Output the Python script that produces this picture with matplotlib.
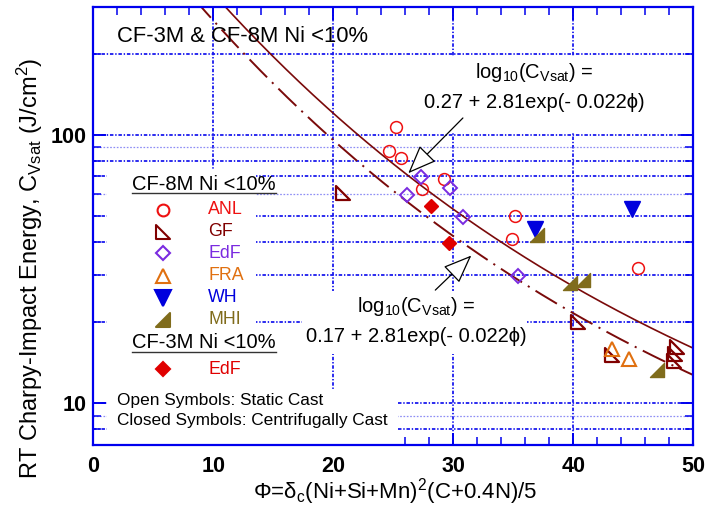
import numpy as np
import matplotlib
matplotlib.use("Agg")
import matplotlib.pyplot as plt
from matplotlib.path import Path
from matplotlib.patches import Rectangle
from matplotlib.lines import Line2D

plt.rcParams['font.family'] = ['Liberation Sans', 'DejaVu Sans']
plt.rcParams['mathtext.default'] = 'regular'
plt.rcParams['lines.scale_dashes'] = False

# ---- data: phi (ferrite/composition parameter) vs. saturation Charpy energy (J/cm2)
anl_phi = [25.2, 24.6, 25.6, 29.2, 27.4, 35.1, 34.9, 45.4]
anl_cv = [107.0, 87.0, 82.0, 68.5, 63.0, 50.0, 41.0, 32.0]
gf_phi = [20.8, 40.4, 43.2, 48.6, 48.5, 48.4]
gf_cv = [60.5, 20.1, 15.1, 16.2, 15.3, 14.4]
edf_phi = [27.3, 26.1, 29.7, 30.8, 35.4]
edf_cv = [69.3, 59.4, 63.2, 49.6, 29.8]
fra_phi = [43.2, 44.6]
fra_cv = [16.0, 14.6]
wh_phi = [44.9, 36.8]
wh_cv = [52.8, 44.5]
mhi_phi = [37.0, 39.7, 40.8, 47.0]
mhi_cv = [42.4, 28.0, 28.9, 13.3]
edf3m_phi = [28.1, 29.6]
edf3m_cv = [54.3, 39.6]

# correlation constants: log10(Cvsat) = a + b*exp(c*phi)
fit_upper = (0.27, 2.81, -0.022)
fit_lower = (0.17, 2.81, -0.022)

x_ticks = [0, 10, 20, 30, 40, 50]
y_ticks = [10, 100]
y_minor = [7, 8, 9, 20, 30, 40, 50, 60, 70, 80, 90, 200, 300]
grid_x = [10, 20, 30, 40]
grid_y_dark = [8, 10, 20, 30, 40, 50, 70, 80, 100, 200]
grid_y_light = [9, 60, 90]

# ---- colours
C_ANL = '#ee1111'
C_GF = '#800000'
C_EDF = '#7a2be0'
C_FRA = '#e07010'
C_WH = '#0000dd'
C_MHI = '#806c1c'
C_EDF3 = '#e00000'
C_FIT = '#7a0a0a'
C_AX = '#0000ee'

# right-triangle markers
tri_gf = Path([(-1, 1), (-1, -1), (1, -1), (-1, 1)],
              [Path.MOVETO, Path.LINETO, Path.LINETO, Path.CLOSEPOLY])
tri_mhi = Path([(1, 1), (1, -1), (-1, -1), (1, 1)],
               [Path.MOVETO, Path.LINETO, Path.LINETO, Path.CLOSEPOLY])

W, H = 708, 514
fig = plt.figure(figsize=(W / 100, H / 100), dpi=100)
ax = fig.add_axes([93.3 / W, 1 - 445 / H, 600 / W, 438.5 / H])
ax.set_yscale('log')
ax.set_xlim(0, 50)
ax.set_ylim(7, 300)


def P(px, py):
    """pixel position -> figure fraction"""
    return px / W, 1 - py / H


# ---- grid
dark_grid = dict(color='#1a1aee', lw=1.3, ls=(0, (2.5, 1.3, 1, 1.3)), zorder=1)
light_grid = dict(color='#8c8cf5', lw=0.9, ls=(0, (1.2, 1.2)), zorder=1)
for gx in grid_x:
    ax.axvline(gx, **dark_grid)
for gy in grid_y_dark:
    ax.axhline(gy, **dark_grid)
for gy in grid_y_light:
    ax.axhline(gy, **light_grid)

# white panels behind the text blocks
for (x0, y0, x1, y1) in [(107, 170, 256, 444), (115, 390, 398, 444),
                         (302, 291, 527, 354), (420, 57, 648, 133)]:
    fx0, fy1 = P(x0, y0)
    fx1, fy0 = P(x1, y1)
    ax.add_patch(Rectangle((fx0, fy0), fx1 - fx0, fy1 - fy0, transform=fig.transFigure,
                           facecolor='white', edgecolor='none', zorder=2, clip_on=False))

# ---- fitted curves
phi = np.linspace(0, 50, 400)
a, b, c = fit_upper
ax.plot(phi, 10 ** (a + b * np.exp(c * phi)), color=C_FIT, lw=1.2, zorder=3)
a, b, c = fit_lower
ax.plot(phi, 10 ** (a + b * np.exp(c * phi)), color=C_FIT, lw=1.4,
        ls=(0, (18, 5, 1.5, 5)), zorder=3)

# ---- data markers
mk = dict(ls='none', zorder=4, clip_on=False)
ax.plot(anl_phi, anl_cv, marker='o', ms=8.5, mfc='none', mec=C_ANL, mew=1.1, **mk)
ax.plot(gf_phi, gf_cv, marker=tri_gf, ms=9.5, mfc='none', mec=C_GF, mew=1.6, **mk)
ax.plot(edf_phi, edf_cv, marker='D', ms=7, mfc='none', mec=C_EDF, mew=1.4, **mk)
ax.plot(fra_phi, fra_cv, marker='^', ms=10, mfc='none', mec=C_FRA, mew=1.5, **mk)
ax.plot(wh_phi, wh_cv, marker='v', ms=11, mfc=C_WH, mec=C_WH, **mk)
ax.plot(mhi_phi, mhi_cv, marker=tri_mhi, ms=10.5, mfc=C_MHI, mec=C_MHI, **mk)
ax.plot(edf3m_phi, edf3m_cv, marker='D', ms=7.5, mfc=C_EDF3, mec=C_EDF3, **mk)

# ---- axes styling
for s in ax.spines.values():
    s.set_color(C_AX)
    s.set_linewidth(1.6)
    s.set_zorder(5)
ax.set_xticks(x_ticks)
ax.set_xticks(np.arange(0, 51, 2), minor=True)
ax.set_yticks(y_ticks)
ax.set_yticks(y_minor, minor=True)
ax.set_yticklabels([str(v) for v in y_ticks])
ax.yaxis.set_minor_formatter(matplotlib.ticker.NullFormatter())
ax.tick_params(which='both', direction='in', top=True, right=True,
               color=C_AX, labelcolor='black', labelsize=15.5)
ax.tick_params(which='major', length=9, width=1.4)
ax.tick_params(which='minor', length=5.5, width=1.1)
ax.tick_params(axis='x', which='major', pad=8)
ax.tick_params(axis='y', which='major', pad=5)
for lbl in ax.get_xticklabels() + ax.get_yticklabels():
    lbl.set_fontweight('bold')

fig.text(*P(30, 268), r'RT Charpy-Impact Energy, C$_{Vsat}$ (J/cm$^2$)',
         rotation=90, ha='center', va='center', fontsize=17)
fig.text(*P(395, 492), r'Φ=δ$_c$(Ni+Si+Mn)$^2$(C+0.4N)/5', ha='center', va='center',
         fontsize=16, family=['Liberation Sans Narrow', 'Liberation Sans', 'DejaVu Sans'])

# ---- annotations
tk = dict(transform=fig.transFigure, zorder=6)
ax.text(*P(117, 37), 'CF-3M & CF-8M Ni <10%', fontsize=15.8, ha='left', va='center', **tk)

ax.text(*P(534, 72), r'log$_{10}$(C$_{Vsat}$) =', fontsize=14.5, ha='center', va='center', **tk)
ax.text(*P(534, 103), '0.27 + 2.81exp(- 0.022ϕ)', fontsize=14.5, ha='center', va='center', **tk)
ax.text(*P(416, 306), r'log$_{10}$(C$_{Vsat}$) =', fontsize=14.5, ha='center', va='center', **tk)
ax.text(*P(416, 337), '0.17 + 2.81exp(- 0.022ϕ)', fontsize=14.5, ha='center', va='center', **tk)

arrow = dict(arrowstyle='-|>,head_length=1.0,head_width=0.4', fc='white', ec='black',
             lw=0.9, mutation_scale=18, shrinkA=0, shrinkB=0)
ax.annotate('', xy=(26.25, 71.9), xytext=(30.8, 115.4), arrowprops=arrow, zorder=6)
ax.annotate('', xy=(31.5, 35.5), xytext=(28.5, 26.4), arrowprops=arrow, zorder=6)

# ---- legend block
def header(py, label):
    ax.text(*P(132, py), label, fontsize=14.5, ha='left', va='center', **tk)
    x0, yl = P(132, py + 9)
    x1, _ = P(276, py + 9)
    ax.add_line(Line2D([x0, x1], [yl, yl], transform=fig.transFigure, color='#333333',
                       lw=1.0, zorder=6, clip_on=False))


def entry(py, marker, ms, mfc, mec, label, tcolor):
    ax.plot(*[[v] for v in P(162.7, py)], marker=marker, ms=ms, mfc=mfc, mec=mec, mew=1.5,
            ls='none', transform=fig.transFigure, zorder=6, clip_on=False)
    ax.text(*P(208, py), label, color=tcolor, fontsize=12.8, ha='left', va='center', **tk)


header(184, 'CF-8M Ni <10%')
entry(210, 'o', 8.5, 'none', C_ANL, 'ANL', C_ANL)
entry(232, tri_gf, 9.5, 'none', C_GF, 'GF', C_GF)
entry(253, 'D', 7, 'none', C_EDF, 'EdF', C_EDF)
entry(276, '^', 10, 'none', C_FRA, 'FRA', C_FRA)
entry(298, 'v', 11, C_WH, C_WH, 'WH', C_WH)
entry(320, tri_mhi, 10.5, C_MHI, C_MHI, 'MHI', C_MHI)
header(343, 'CF-3M Ni <10%')
entry(369, 'D', 7.5, C_EDF3, C_EDF3, 'EdF', C_EDF3)

ax.text(*P(117, 400), 'Open Symbols: Static Cast', fontsize=12.4, ha='left', va='center', **tk)
ax.text(*P(117, 421), 'Closed Symbols: Centrifugally Cast', fontsize=12.4, ha='left',
        va='center', **tk)

fig.savefig('out.png', dpi=100)
